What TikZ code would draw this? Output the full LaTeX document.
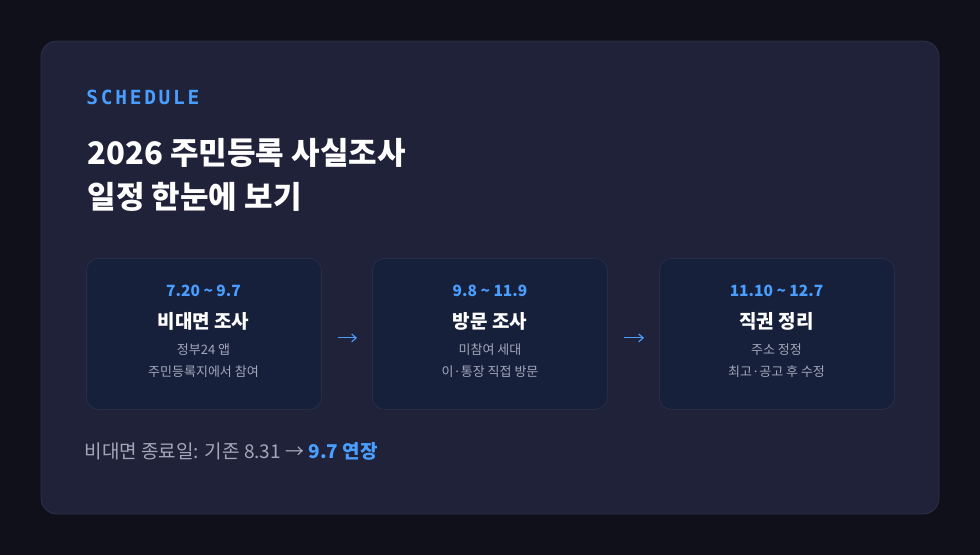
\documentclass[tikz,border=0pt]{standalone}
\usepackage{fontspec}
\setmainfont{Noto Sans CJK KR}
\newfontfamily\kr{Noto Sans CJK KR}
\newfontfamily\monofont[LetterSpace=14]{DejaVu Sans Mono}
\usetikzlibrary{positioning,arrows.meta}
\definecolor{pagebg}{HTML}{0F1019}
\definecolor{cardbg}{HTML}{1F2238}
\definecolor{cardline}{HTML}{2E3249}
\definecolor{stepbg}{HTML}{17203A}
\definecolor{stepline}{HTML}{262E48}
\definecolor{accent}{HTML}{4A9EFF}
\definecolor{muted}{HTML}{A3A7BB}
\tikzset{>={Straight Barb[length=1.6mm,width=2.8mm]}}

\begin{document}
\begin{tikzpicture}[x=1pt, y=-1pt, thick]
	\tikzstyle{stepbox}=[draw=stepline, fill=stepbg, rounded corners=12pt, line width=0.8pt, minimum width=235pt, minimum height=151pt, anchor=north west]
	\tikzstyle{stepdate}=[text=accent, font=\kr\bfseries\fontsize{15.5}{18}\selectfont]
	\tikzstyle{steptitle}=[text=white, font=\kr\bfseries\fontsize{19}{22}\selectfont]
	\tikzstyle{stepnote}=[text=muted, font=\kr\fontsize{13}{16}\selectfont]

	\fill[pagebg] (0,0) rectangle (980,555);
	\draw[cardline, fill=cardbg, rounded corners=16pt, line width=0.8pt] (41,41) rectangle (939,514);

	\node[anchor=west, inner sep=0pt, text=accent, font=\monofont\bfseries\fontsize{19.5}{22}\selectfont] (tag) at (86,97) {SCHEDULE};
	\node[anchor=west, text=white, font=\kr\bfseries\fontsize{31}{36}\selectfont] (head1) at (84,153) {2026 주민등록 사실조사};
	\node[anchor=west, text=white, font=\kr\bfseries\fontsize{31}{36}\selectfont] (head2) at (84,197) {일정 한눈에 보기};

	\node[stepbox] (online) at (86,258) {};
	\node[stepbox] (visit) at (372,258) {};
	\node[stepbox] (office) at (659,258) {};

	% box contents
	\node[stepdate] (online-date) at (203.5,291) {7.20 \textasciitilde{} 9.7};
	\node[steptitle] (online-title) at (203.5,321) {비대면 조사};
	\node[stepnote] (online-note1) at (203.5,350) {정부24 앱};
	\node[stepnote] (online-note2) at (203.5,372) {주민등록지에서 참여};

	\node[stepdate] (visit-date) at (490,291) {9.8 \textasciitilde{} 11.9};
	\node[steptitle] (visit-title) at (490,321) {방문 조사};
	\node[stepnote] (visit-note1) at (490,350) {미참여 세대};
	\node[stepnote] (visit-note2) at (490,372) {이·통장 직접 방문};

	\node[stepdate] (office-date) at (776.5,291) {11.10 \textasciitilde{} 12.7};
	\node[steptitle] (office-title) at (776.5,321) {직권 정리};
	\node[stepnote] (office-note1) at (776.5,350) {주소 정정};
	\node[stepnote] (office-note2) at (776.5,372) {최고·공고 후 수정};

	\draw[->, accent, line width=1.1pt, shorten <=16pt, shorten >=15pt] ([yshift=-4pt]online.east) -- ([yshift=-4pt]visit.west);
	\draw[->, accent, line width=1.1pt, shorten <=16pt, shorten >=15pt] ([yshift=-4pt]visit.east) -- ([yshift=-4pt]office.west);

	\node[anchor=west, text=muted, font=\kr\fontsize{19}{23}\selectfont] (footer) at (81,451) {비대면 종료일: 기존 8.31 → \textcolor{accent}{\bfseries 9.7 연장}};
\end{tikzpicture}
\end{document}
